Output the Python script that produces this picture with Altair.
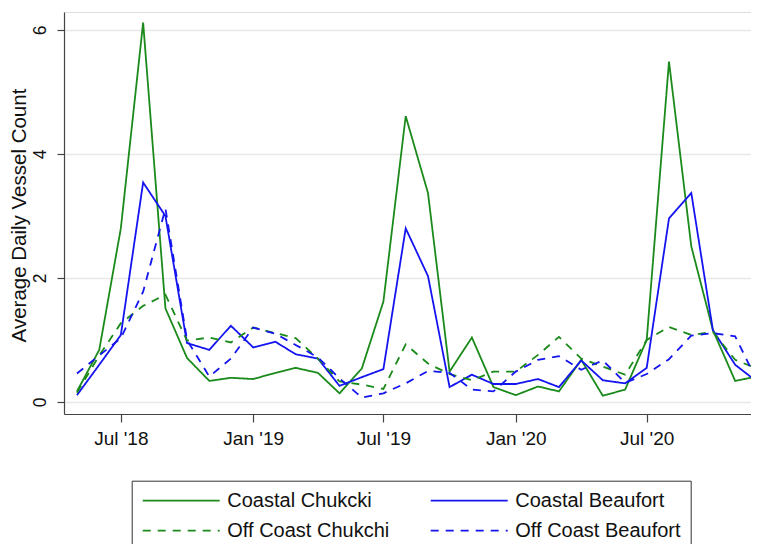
import altair as alt
import pandas as pd

months = [
    "2018-05-01", "2018-06-01", "2018-07-01", "2018-08-01", "2018-09-01", "2018-10-01",
    "2018-11-01", "2018-12-01", "2019-01-01", "2019-02-01", "2019-03-01", "2019-04-01",
    "2019-05-01", "2019-06-01", "2019-07-01", "2019-08-01", "2019-09-01", "2019-10-01",
    "2019-11-01", "2019-12-01", "2020-01-01", "2020-02-01", "2020-03-01", "2020-04-01",
    "2020-05-01", "2020-06-01", "2020-07-01", "2020-08-01", "2020-09-01", "2020-10-01",
    "2020-11-01", "2020-12-01",
]

series_names = ["Coastal Chukcki", "Coastal Beaufort", "Off Coast Chukchi", "Off Coast Beaufort"]

coastal_chukcki = [0.17, 0.84, 2.80, 6.12, 1.51, 0.71, 0.34, 0.39, 0.37, 0.47, 0.55, 0.47,
                   0.14, 0.54, 1.62, 4.61, 3.37, 0.49, 1.04, 0.24, 0.11, 0.25, 0.17, 0.68,
                   0.10, 0.20, 1.00, 5.49, 2.51, 1.16, 0.34, 0.41]
coastal_beaufort = [0.11, 0.60, 1.08, 3.54, 3.00, 0.95, 0.84, 1.23, 0.88, 0.97, 0.77, 0.70,
                    0.26, 0.40, 0.53, 2.80, 2.03, 0.24, 0.44, 0.29, 0.29, 0.37, 0.24, 0.67,
                    0.35, 0.30, 0.55, 2.96, 3.37, 1.16, 0.60, 0.33]
off_coast_chukchi = [0.15, 0.75, 1.27, 1.55, 1.73, 0.99, 1.04, 0.96, 1.20, 1.11, 1.03, 0.70,
                     0.33, 0.28, 0.21, 0.93, 0.62, 0.45, 0.35, 0.49, 0.49, 0.76, 1.05, 0.70,
                     0.57, 0.44, 1.00, 1.21, 1.08, 1.13, 0.68, 0.54]
off_coast_beaufort = [0.46, 0.75, 1.03, 1.78, 3.12, 1.00, 0.41, 0.70, 1.20, 1.10, 0.92, 0.72,
                      0.38, 0.07, 0.14, 0.30, 0.50, 0.47, 0.20, 0.17, 0.49, 0.68, 0.74, 0.52,
                      0.67, 0.31, 0.45, 0.69, 1.07, 1.11, 1.06, 0.35]

y_ticks = [0, 2, 4, 6]

all_values = [coastal_chukcki, coastal_beaufort, off_coast_chukchi, off_coast_beaufort]
rows = []
for name, vals in zip(series_names, all_values):
    for m, v in zip(months, vals):
        rows.append({"month": m, "series": name, "count": v})
df = pd.DataFrame(rows)

# legend fills column by column: order so rows read CC | CB, OC | OB
legend_order = ["Coastal Chukcki", "Off Coast Chukchi", "Coastal Beaufort", "Off Coast Beaufort"]
color_map = {"Coastal Chukcki": "#1a8a1a", "Off Coast Chukchi": "#1a8a1a",
             "Coastal Beaufort": "#1414f0", "Off Coast Beaufort": "#1414f0"}
dash_map = {"Coastal Chukcki": [1, 0], "Off Coast Chukchi": [8, 7],
            "Coastal Beaufort": [1, 0], "Off Coast Beaufort": [8, 7]}

FONT = "Liberation Sans"

legend = alt.Legend(
    title=None, orient="none", legendX=67.7, legendY=468.7, columns=2,
    symbolType="M-1,0H18.25", symbolSize=64, symbolStrokeWidth=1.8, symbolOffset=-5,
    labelFont=FONT, labelFontSize=20, labelColor="#111", labelOffset=70.6,
    padding=10, rowPadding=10, columnPadding=37,
    strokeColor="#333", fillColor="white", labelLimit=0,
)

x_ticks = [alt.DateTime(year=y, month=mo, date=1, utc=True)
           for y, mo in [(2018, 7), (2019, 1), (2019, 7), (2020, 1), (2020, 7)]]

chart = alt.Chart(df).mark_line(strokeWidth=1.8, clip=True).encode(
    x=alt.X("month:T",
            scale=alt.Scale(type="utc",
                            domain=[alt.DateTime(year=2018, month=4, date=13, utc=True),
                                    alt.DateTime(year=2020, month=11, date=23, utc=True)]),
            axis=alt.Axis(title=None, values=x_ticks, grid=False,
                          labelExpr="utcFormat(datum.value, \"%b '%y\")",
                          labelFont=FONT, labelFontSize=19, labelColor="#111",
                          tickSize=8, labelPadding=7, tickColor="#444", domainColor="#444",
                          domainWidth=1.2, tickWidth=1.2, labelFlush=False)),
    y=alt.Y("count:Q",
            scale=alt.Scale(domain=[-0.194, 6.29], nice=False, zero=False),
            axis=alt.Axis(title="Average Daily Vessel Count", values=y_ticks,
                          labelAngle=270, labelAlign="center", labelBaseline="alphabetic",
                          labelFont=FONT, labelFontSize=17.5, labelColor="#111",
                          tickSize=7, labelPadding=12, tickColor="#444", domainColor="#444",
                          domainWidth=1.2, tickWidth=1.2,
                          gridColor="#e8e8e8", gridWidth=1.5,
                          titleFont=FONT, titleFontSize=20.5, titleFontWeight="normal",
                          titleColor="#111", titleAngle=270, titleX=-39, titleY=203,
                          titleAlign="center", titleBaseline="alphabetic")),
    color=alt.Color("series:N",
                    scale=alt.Scale(domain=legend_order,
                                    range=[color_map[s] for s in legend_order]),
                    sort=legend_order, legend=legend),
    strokeDash=alt.StrokeDash("series:N",
                              scale=alt.Scale(domain=legend_order,
                                              range=[dash_map[s] for s in legend_order]),
                              sort=legend_order, legend=legend),
).properties(
    width=687, height=402,
    padding={"left": 56, "top": 4, "right": 0, "bottom": 130},
    autosize=alt.AutoSizeParams(type="none"),
).configure_view(stroke=None).configure(background="white")

chart.save("out.html", embed_options={"renderer": "svg", "actions": False})
